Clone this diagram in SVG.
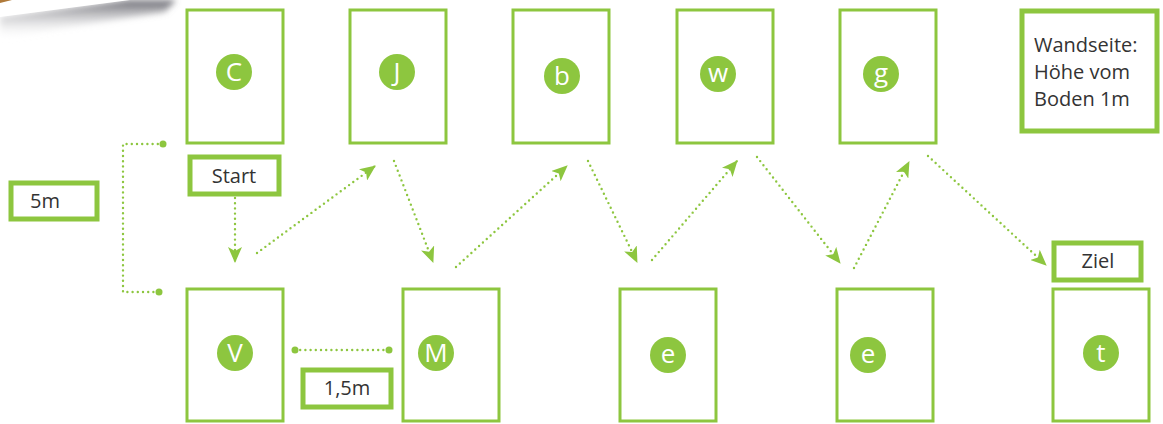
<svg xmlns="http://www.w3.org/2000/svg" width="1163" height="424" viewBox="0 0 1163 424">
<style>
.box{fill:#fff;stroke:#8dc63f;stroke-width:3}
.lbl{fill:#fff;stroke:#8dc63f;stroke-width:5}
.dot{fill:#8dc63f}
.let{fill:#fff;font-family:"Open Sans","Liberation Sans",sans-serif;font-size:26px;text-anchor:middle}
.txt{fill:#333;font-family:"Open Sans","Liberation Sans",sans-serif;font-size:20px}
.con{fill:none;stroke:#8dc63f;stroke-width:2.4;stroke-linecap:round;stroke-dasharray:0 5.2}
</style>
<defs>
<marker id="ah" viewBox="0 0 16 14" refX="15" refY="7" markerWidth="16" markerHeight="14" markerUnits="userSpaceOnUse" orient="auto">
<path d="M0,0 L16,7 L0,14 L4,7 Z" fill="#8dc63f"/>
</marker>
<linearGradient id="sh" x1="0" y1="0" x2="0" y2="1">
<stop offset="0" stop-color="#55555e" stop-opacity="0.9"/>
<stop offset="1" stop-color="#ffffff" stop-opacity="0"/>
</linearGradient>
<filter id="bl" x="-0.2" y="-0.5" width="1.4" height="2"><feGaussianBlur stdDeviation="3"/></filter>
</defs>
<rect width="1163" height="424" fill="#fff"/>
<g id="page-corner">
<polygon points="0,17 128,0 176,0 165,12 60,28 0,40" fill="url(#sh)" filter="url(#bl)"/>
<polygon points="0,0 130,0 0,17" fill="#fff"/>
<polygon points="0,0 12,0 0,3" fill="#b07a3a"/>
</g>
<g id="connectors">
<polyline class="con" points="163,144 123,144 123,292 159,292"/>
<circle class="dot" cx="163" cy="144" r="3.5"/>
<circle class="dot" cx="159" cy="292" r="3.5"/>
<line class="con" x1="295" y1="350" x2="389" y2="350"/>
<circle class="dot" cx="295" cy="350" r="3.5"/>
<circle class="dot" cx="389" cy="350" r="3.5"/>
<line class="con" x1="235" y1="198" x2="235" y2="262" marker-end="url(#ah)"/>
<line class="con" x1="257" y1="253" x2="375" y2="166" marker-end="url(#ah)"/>
<line class="con" x1="394" y1="161" x2="433" y2="262" marker-end="url(#ah)"/>
<line class="con" x1="456" y1="267" x2="567" y2="166" marker-end="url(#ah)"/>
<line class="con" x1="588" y1="161" x2="637" y2="262" marker-end="url(#ah)"/>
<line class="con" x1="652" y1="260" x2="737" y2="161" marker-end="url(#ah)"/>
<line class="con" x1="757" y1="157" x2="840" y2="263" marker-end="url(#ah)"/>
<line class="con" x1="854" y1="268" x2="909" y2="162" marker-end="url(#ah)"/>
<line class="con" x1="928" y1="156" x2="1046" y2="265" marker-end="url(#ah)"/>
</g>
<g id="node-C"><rect class="box" x="187" y="10" width="96" height="133"/><circle class="dot" cx="234" cy="72" r="18"/><text class="let" x="234" y="81">C</text></g>
<g id="node-J"><rect class="box" x="350" y="10" width="96" height="133"/><circle class="dot" cx="397" cy="72" r="18"/><text class="let" x="397" y="81">J</text></g>
<g id="node-b"><rect class="box" x="513" y="10" width="96" height="133"/><circle class="dot" cx="562" cy="76" r="18"/><text class="let" x="562" y="85">b</text></g>
<g id="node-w"><rect class="box" x="677" y="10" width="96" height="133"/><circle class="dot" cx="718" cy="74" r="18"/><text class="let" x="718" y="82">w</text></g>
<g id="node-g"><rect class="box" x="840" y="10" width="96" height="133"/><circle class="dot" cx="881" cy="74" r="18"/><text class="let" x="881" y="82">g</text></g>
<g id="node-V"><rect class="box" x="187" y="289" width="96" height="132"/><circle class="dot" cx="235" cy="353" r="18"/><text class="let" x="235" y="362">V</text></g>
<g id="node-M"><rect class="box" x="403" y="289" width="96" height="132"/><circle class="dot" cx="436" cy="353" r="18"/><text class="let" x="436" y="362">M</text></g>
<g id="node-e1"><rect class="box" x="620" y="289" width="96" height="132"/><circle class="dot" cx="668" cy="355" r="18"/><text class="let" x="668" y="363">e</text></g>
<g id="node-e2"><rect class="box" x="837" y="289" width="96" height="132"/><circle class="dot" cx="868" cy="355" r="18"/><text class="let" x="868" y="363">e</text></g>
<g id="node-t"><rect class="box" x="1053" y="289" width="96" height="132"/><circle class="dot" cx="1101" cy="353" r="18"/><text class="let" x="1101" y="362">t</text></g>
<g id="label-start"><rect class="lbl" x="190" y="157" width="89" height="37"/><text class="txt" x="234" y="183" text-anchor="middle">Start</text></g>
<g id="label-5m"><rect class="lbl" x="11" y="183" width="86" height="36"/><text class="txt" x="45" y="208" text-anchor="middle">5m</text></g>
<g id="label-15m"><rect class="lbl" x="303" y="370" width="88" height="37"/><text class="txt" x="347" y="395" text-anchor="middle">1,5m</text></g>
<g id="label-ziel"><rect class="lbl" x="1054" y="243" width="87" height="37"/><text class="txt" x="1098" y="268" text-anchor="middle">Ziel</text></g>
<g id="label-wand"><rect class="lbl" x="1022" y="11" width="135" height="120"/>
<text class="txt" x="1034" y="52" font-size="21">Wandseite:</text>
<text class="txt" x="1034" y="79" font-size="21">Höhe vom</text>
<text class="txt" x="1034" y="106" font-size="21">Boden 1m</text></g>
</svg>
